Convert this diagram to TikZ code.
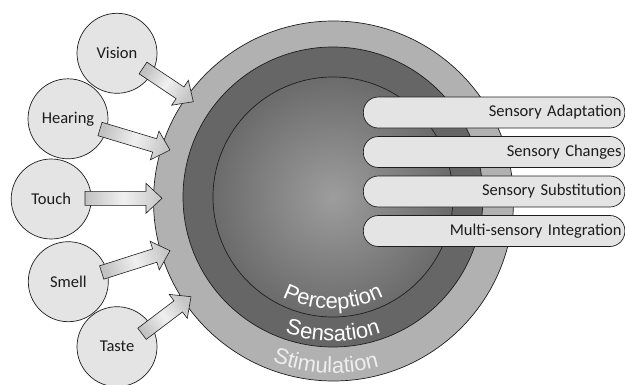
\documentclass[tikz,border=0pt]{standalone}
\usepackage{fontspec}
\setmainfont{Carlito}
\newfontfamily\ringfont{Liberation Sans}
\usetikzlibrary{calc,decorations.text}
\definecolor{ringout}{HTML}{B1B1B1}
\definecolor{ringmid}{HTML}{666666}
\definecolor{innerc}{HTML}{9D9D9D}
\definecolor{innere}{HTML}{6B6B6B}
\definecolor{linec}{HTML}{1E1E1E}
\definecolor{lightfill}{HTML}{E4E4E4}
\definecolor{labelc}{HTML}{1C1C1C}
\definecolor{stimc}{HTML}{EEEEEE}
\definecolor{arrtail}{HTML}{C2C2C2}
\definecolor{arrmid}{HTML}{F0F0F0}
\definecolor{arrtip}{HTML}{C6C6C6}
\begin{document}
\begin{tikzpicture}[x=1pt,y=1pt,
  sense/.style={circle, draw=linec, line width=0.7pt, fill=lightfill,
    minimum size=80pt, inner sep=0pt, text=labelc,
    font=\fontsize{16.5}{19}\selectfont},
  pill/.style={draw=linec, line width=0.7pt, fill=lightfill, rounded corners=15pt,
    minimum height=31pt, minimum width=261.5pt, text width=255pt, align=right,
    inner xsep=3pt, anchor=west, text=labelc,
    font=\fontsize{16.5}{19}\selectfont},
  ring/.style={circle, draw=linec, line width=0.7pt, inner sep=0pt},
  blockarrow/.style={draw=linec, line width=0.6pt, line join=miter}
]
\useasboundingbox (0,0) rectangle (625,384);
\clip (0,0) rectangle (625,384);

% rings
\node[ring, fill=ringout, minimum size=360pt] (stim) at (333.5,183) {};
\node[ring, fill=ringmid, minimum size=300pt] (sens) at (333,187) {};
\node[ring, inner color=innerc, outer color=innere, minimum size=240pt] (perc) at (333,187) {};

% ring labels
\path[decorate, decoration={text along path, text align=center, text color=white,
  text={|\ringfont\fontsize{22}{25}\selectfont|Perception}}]
  ($(perc.center)+(200:112)$) arc[start angle=200, end angle=340, radius=112];
\path[decorate, decoration={text along path, text align=center, text color=white,
  text={|\ringfont\fontsize{22}{25}\selectfont|Sensation}}]
  ($(sens.center)+(205:144)$) arc[start angle=205, end angle=335, radius=144];
\path[decorate, decoration={text along path, text align=center, text color=stimc,
  text={|\ringfont\fontsize{22}{25}\selectfont|Stimulation}}]
  ($(stim.center)+(207.3:172)$) arc[start angle=207.3, end angle=327.3, radius=172];

% pills
\node[pill] (adapt) at (363,271.5) {Sensory Adaptation};
\node[pill] (change) at (363,232) {Sensory Changes};
\node[pill] (subst) at (363,192.5) {Sensory Substitution};
\node[pill] (multi) at (363,153) {Multi-sensory Integration};

% senses
\node[sense] (vis) at (117,330.7) {Vision};
\node[sense] (hear) at (68,265.2) {Hearing};
\node[sense] (touch) at (51.2,185) {Touch};
\node[sense] (smell) at (68.3,102.3) {Smell};
\node[sense] (taste) at (117,37.3) {Taste};

% block arrows
\foreach \n/\tx/\ty/\hx/\hy/\a in {
  vis/143/316/193.3/282.3/-33.8,
  hear/100/255/170/234/-16.7,
  touch/85/185.7/162/185.7/0,
  smell/101.7/111.5/170/133.3/17.7,
  taste/142/50.2/191/87.3/37.1}{
  \coordinate (\n-tail) at (\tx,\ty);
  \coordinate (\n-tip) at (\hx,\hy);
  \coordinate (\n-hb) at ($(\n-tip)!16pt!(\n-tail)$);
  \pgfmathsetmacro\sa{\a+90}
  \path[blockarrow, top color=arrtail, bottom color=arrtip, middle color=arrmid, shading angle=\sa]
    ($(\n-tail)!7pt!90:(\n-tip)$) --
    ($(\n-hb)!7pt!90:(\n-tip)$) --
    ($(\n-hb)!15pt!90:(\n-tip)$) --
    (\n-tip) --
    ($(\n-hb)!15pt!-90:(\n-tip)$) --
    ($(\n-hb)!7pt!-90:(\n-tip)$) --
    ($(\n-tail)!7pt!-90:(\n-tip)$) -- cycle;
}
\end{tikzpicture}
\end{document}
